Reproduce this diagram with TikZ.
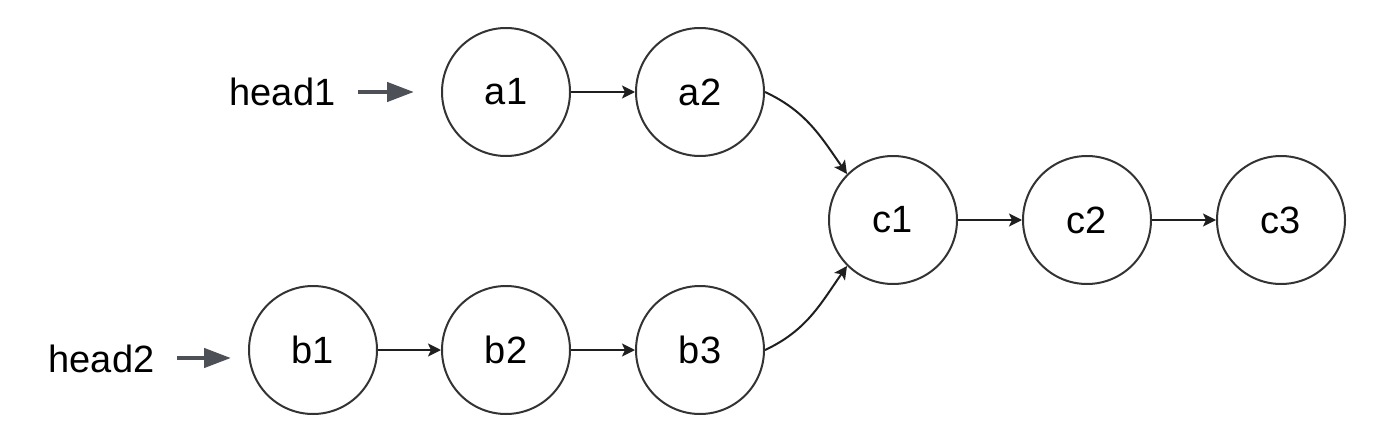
\documentclass[tikz,border=0pt]{standalone}
\usepackage{fontspec}
\setmainfont{Liberation Sans}
\usetikzlibrary{arrows.meta}
\definecolor{hdgray}{HTML}{4D5157}
\definecolor{ring}{HTML}{333333}
\tikzset{
  listnode/.style={circle, draw=ring, line width=2pt, minimum size=128pt, inner sep=0pt, font=\fontsize{38}{40}\selectfont},
  conn/.style={draw=black!88, line width=2pt, -{Stealth[length=13pt, width=13pt, inset=3pt]}},
  headarrow/.style={draw=hdgray, line width=4.5pt, -{Triangle[length=27pt, width=19pt]}},
  headlabel/.style={inner sep=0pt, outer sep=0pt, anchor=base, font=\fontsize{38}{40}\selectfont}
}
\begin{document}
\begin{tikzpicture}[x=1pt, y=-1pt]
\useasboundingbox (0,0) rectangle (1400,444);
% nodes
\node[listnode] (a1) at (506,92) {a1};
\node[listnode] (a2) at (700,92) {a2};
\node[listnode] (c1) at (893,220) {c1};
\node[listnode] (c2) at (1087,220) {c2};
\node[listnode] (c3) at (1281,220) {c3};
\node[listnode] (b1) at (313,350) {b1};
\node[listnode] (b2) at (506,350) {b2};
\node[listnode] (b3) at (700,350) {b3};
% head labels
\node[headlabel] (head1) at (282.5,106) {head1};
\node[headlabel] (head2) at (101.5,372) {head2};
\coordinate (h1s) at (358,92);
\coordinate (h1e) at (414,92);
\coordinate (h2s) at (177,358);
\coordinate (h2e) at (231,358);
\draw[headarrow] (h1s) -- (h1e);
\draw[headarrow] (h2s) -- (h2e);
% connectors
\draw[conn] (a1) -- (a2);
\draw[conn] (b1) -- (b2);
\draw[conn] (b2) -- (b3);
\draw[conn] (c1) -- (c2);
\draw[conn] (c2) -- (c3);
\draw[conn] (a2.east) to[out=-25, in=125] (c1.north west);
\draw[conn] (b3.east) to[out=25, in=-125] (c1.south west);
\end{tikzpicture}
\end{document}
